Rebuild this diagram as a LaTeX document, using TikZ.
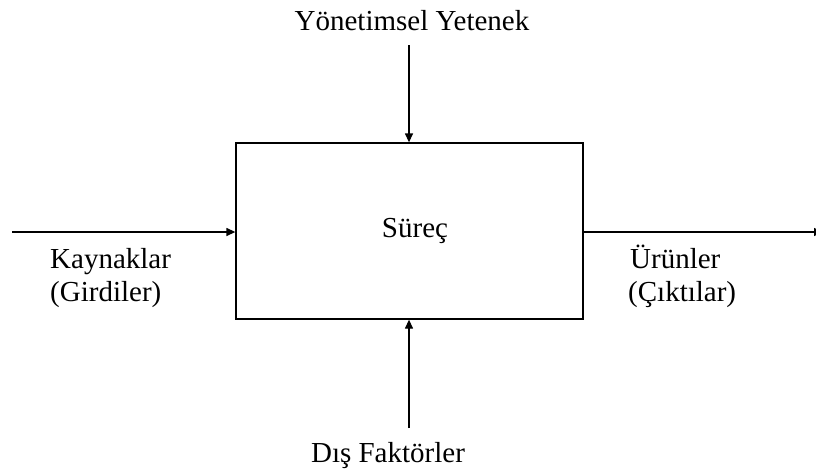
\documentclass[tikz,border=0pt]{standalone}
\usepackage{fontspec}
\setmainfont{Liberation Serif}
\usetikzlibrary{arrows.meta}
\begin{document}
\begin{tikzpicture}[x=1pt,y=-1pt,
  lbl/.style={inner sep=0pt,font=\fontsize{29}{33}\selectfont},
  flow/.style={line width=1.3pt,-{Triangle[length=9pt,width=8pt]}},
  procbox/.style={draw,line width=1.3pt,minimum width=347pt,minimum height=176pt,inner sep=0pt}]
  \useasboundingbox[fill=white] (0,0) rectangle (816,472);

  % central process block
  \node[procbox] (proc) at (409.5,231) {};
  \node[lbl,anchor=base] (procname) at (415,237) {Süreç};

  % free ends of the connectors
  \coordinate (inL)  at (12,232);
  \coordinate (outR) at (823,232);
  \coordinate (topS) at (409,45);
  \coordinate (botS) at (409,428);

  % connectors
  \draw[flow] (inL) -- (inL -| proc.west);
  \draw[flow] (outR -| proc.east) -- (outR);
  \draw[flow] (topS) -- (topS |- proc.north);
  \draw[flow] (botS) -- (botS |- proc.south);

  % labels
  \node[lbl,anchor=base] (mgmt) at (412,30) {Yönetimsel Yetenek};
  \node[lbl,anchor=base] (ext) at (388,462) {Dış Faktörler};
  \node[lbl,anchor=base west] (res1) at (50,268) {Kaynaklar};
  \node[lbl,anchor=base west] (res2) at (50,301) {(Girdiler)};
  \node[lbl,anchor=base west] (prod1) at (630,268) {Ürünler};
  \node[lbl,anchor=base west] (prod2) at (628,301) {(Çıktılar)};
\end{tikzpicture}
\end{document}
